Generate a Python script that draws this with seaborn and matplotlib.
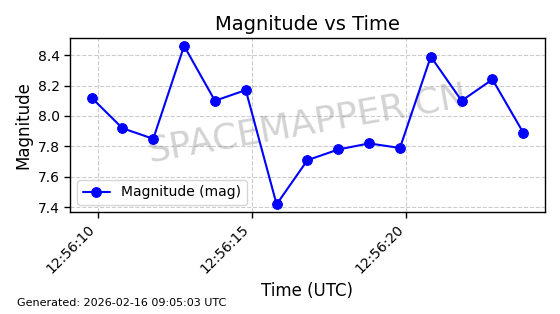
import matplotlib
matplotlib.use("Agg")
import matplotlib.pyplot as plt
import matplotlib.dates as mdates
import seaborn as sns
import pandas as pd
import numpy as np

times = ["12:56:09.8", "12:56:10.8", "12:56:11.8", "12:56:12.8", "12:56:13.8",
         "12:56:14.8", "12:56:15.8", "12:56:16.8", "12:56:17.8", "12:56:18.8",
         "12:56:19.8", "12:56:20.8", "12:56:21.8", "12:56:22.8", "12:56:23.8"]
magnitudes = [8.12, 7.92, 7.85, 8.46, 8.10, 8.17, 7.42, 7.71, 7.78, 7.82,
              7.79, 8.39, 8.10, 8.24, 7.89]
tick_times = ["12:56:10", "12:56:15", "12:56:20"]

df = pd.DataFrame({
    "time": pd.to_datetime(["2026-02-16 " + t for t in times]),
    "mag": magnitudes,
})

sns.set_style("white")
plt.rcParams['font.family'] = ['DejaVu Sans']
plt.rcParams['text.color'] = 'black'
plt.rcParams['axes.labelcolor'] = 'black'
plt.rcParams['xtick.color'] = 'black'
plt.rcParams['ytick.color'] = 'black'

fig, ax = plt.subplots(figsize=(5.6, 3.14), dpi=100)
sns.lineplot(data=df, x="time", y="mag", ax=ax, color="blue", marker="o",
             markersize=7, markeredgecolor="blue", linewidth=1.5,
             label="Magnitude (mag)", zorder=3)

ax.set_xticks(pd.to_datetime(["2026-02-16 " + t for t in tick_times]))
ax.xaxis.set_major_formatter(mdates.DateFormatter("%H:%M:%S"))
plt.setp(ax.get_xticklabels(), rotation=45, ha="right", fontsize=10)
ax.tick_params(axis="y", labelsize=10)
ax.tick_params(axis="both", which="major", length=4, width=1, direction="out", bottom=True, left=True)
for s in ax.spines.values():
    s.set_color("black")
    s.set_linewidth(1)

ax.grid(True, linestyle="--", color="#cccccc", linewidth=0.8)
ax.set_title("Magnitude vs Time", fontsize=14, color="black")
ax.set_xlabel("Time (UTC)", fontsize=12)
ax.set_ylabel("Magnitude", fontsize=12)
ax.set_ylim(7.37, 8.51)
ax.legend(loc="lower left", fontsize=10, framealpha=0.8)

ax.text(0.5, 0.51, "SPACEMAPPER.CN", transform=ax.transAxes, fontsize=26,
        color="gray", alpha=0.35, rotation=10, ha="center", va="center", zorder=1)
fig.text(0.03, 0.025, "Generated: 2026-02-16 09:05:03 UTC", fontsize=8, color="black")

fig.subplots_adjust(left=0.125, right=0.973, top=0.878, bottom=0.325)
fig.savefig("out.png", dpi=100)
